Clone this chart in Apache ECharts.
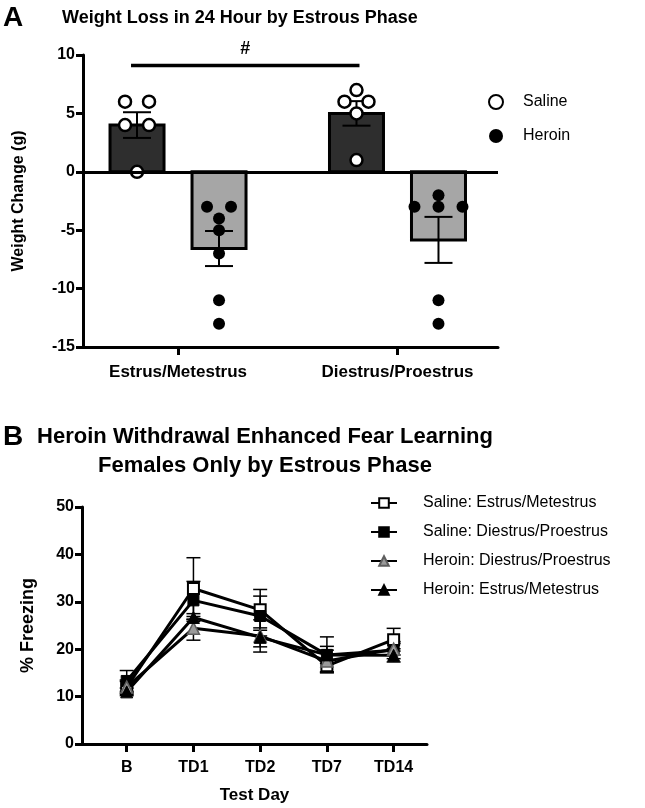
<!DOCTYPE html>
<html>
<head>
<meta charset="utf-8">
<script src="https://cdn.jsdelivr.net/npm/echarts@6/dist/echarts.min.js"></script>
<style>
  html, body { margin: 0; padding: 0; background: #fff; }
  #chart { width: 645px; height: 808px; }
</style>
</head>
<body>
<div id="chart"></div>
<script>
// ===== Panel A: weight change (g) =====
var phases = ['Estrus/Metestrus', 'Diestrus/Proestrus'];
var salineMean = [4.0, 5.0];
var salineSem = [1.1, 1.05];
var heroinMean = [-6.57, -5.83];
var heroinSem = [1.5, 1.97];
var salinePoints = [[6, 6, 4, 4, 0], [7, 6, 6, 5, 1]];
var heroinPoints = [[-3, -3, -4, -5, -7, -11, -13], [-2, -3, -3, -3, -11, -13]];
var sigLevel = 9.1;
var weightTicks = [-15, 10, 5];   // min, max, interval

// ===== Panel B: % freezing by test day =====
var testDays = ['B', 'TD1', 'TD2', 'TD7', 'TD14'];
var salineEM = [12.0, 32.8, 28.3, 16.5, 22.0];
var salineEMSem = [1.5, 6.5, 4.3, 1.3, 2.4];
var salineDP = [13.3, 30.3, 27.0, 18.8, 19.8];
var salineDPSem = [2.2, 4.0, 4.2, 3.8, 1.8];
var heroinDP = [12.0, 24.4, 22.8, 17.5, 20.0];
var heroinDPSem = [1.2, 2.5, 3.4, 2.3, 1.2];
var heroinEM = [11.0, 26.7, 22.5, 18.8, 18.7];
var heroinEMSem = [0.8, 0.8, 2.0, 1.8, 1.4];
var freezeTicks = [0, 50, 10];

var FONT = '"Liberation Sans", Arial, Helvetica, sans-serif';
var BAR_W = 54, BAR_OFF = 41, CAP_A = 28, CAP_B = 14;

var chart = echarts.init(document.getElementById('chart'));

// 同值的点左右排开（简单的 beeswarm）
function swarm(points) {
  var counts = {}, seen = {};
  points.forEach(function(v) { counts[v] = (counts[v] || 0) + 1; });
  return points.map(function(v) {
    var n = counts[v], k = seen[v] || 0;
    seen[v] = k + 1;
    return (k - (n - 1) / 2) * 24;
  });
}

function pointData(groups, side) {
  var out = [];
  groups.forEach(function(pts, gi) {
    var jit = swarm(pts);
    pts.forEach(function(v, j) {
      out.push({ value: [gi, v], symbolOffset: [side * BAR_OFF + jit[j], 0] });
    });
  });
  return out;
}

function meanData(means, sems) {
  return means.map(function(m, i) { return [i, m, sems[i]]; });
}

// 柱子 + 误差线
function barRenderer(side, fill) {
  return function(params, api) {
    var x = api.value(0), m = api.value(1), s = api.value(2);
    var base = api.coord([x, 0]);
    var top = api.coord([x, m]);
    var cx = base[0] + side * BAR_OFF;
    var hi = api.coord([x, m + s])[1];
    var lo = api.coord([x, m - s])[1];
    var ln = { stroke: '#000', lineWidth: 2 };
    return {
      type: 'group',
      children: [
        { type: 'rect', shape: { x: cx - BAR_W / 2, y: Math.min(base[1], top[1]), width: BAR_W, height: Math.abs(top[1] - base[1]) },
          style: { fill: fill, stroke: '#000', lineWidth: 3 } },
        { type: 'line', shape: { x1: cx, y1: hi, x2: cx, y2: lo }, style: ln },
        { type: 'line', shape: { x1: cx - CAP_A / 2, y1: hi, x2: cx + CAP_A / 2, y2: hi }, style: ln },
        { type: 'line', shape: { x1: cx - CAP_A / 2, y1: lo, x2: cx + CAP_A / 2, y2: lo }, style: ln }
      ]
    };
  };
}

function errSeries(means, sems) {
  return {
    type: 'custom', xAxisIndex: 1, yAxisIndex: 1, z: 2, silent: true,
    data: meanData(means, sems),
    renderItem: function(params, api) {
      var x = api.value(0), m = api.value(1), s = api.value(2);
      var hi = api.coord([x, m + s]), lo = api.coord([x, m - s]);
      var ln = { stroke: '#000', lineWidth: 1.5 };
      return {
        type: 'group',
        children: [
          { type: 'line', shape: { x1: hi[0], y1: hi[1], x2: lo[0], y2: lo[1] }, style: ln },
          { type: 'line', shape: { x1: hi[0] - CAP_B / 2, y1: hi[1], x2: hi[0] + CAP_B / 2, y2: hi[1] }, style: ln },
          { type: 'line', shape: { x1: lo[0] - CAP_B / 2, y1: lo[1], x2: lo[0] + CAP_B / 2, y2: lo[1] }, style: ln }
        ]
      };
    }
  };
}

function lineSeries(name, vals, symbol, size, item) {
  return {
    name: name, type: 'line', xAxisIndex: 1, yAxisIndex: 1, z: 3,
    data: vals.map(function(v, i) { return [i, v]; }),
    symbol: symbol, symbolSize: size, showAllSymbol: true,
    lineStyle: { color: '#000', width: 3 },
    itemStyle: item
  };
}

var axisCommon = {
  axisLine: { show: true, onZero: false, lineStyle: { color: '#000', width: 3 } },
  axisTick: { show: true, length: 7, lineStyle: { color: '#000', width: 3 } },
  splitLine: { show: false },
  axisLabel: { color: '#000', fontFamily: FONT, fontWeight: 'bold', fontSize: 16, margin: 8 }
};

var option = {
  backgroundColor: '#fff',
  animation: false,
  textStyle: { fontFamily: FONT },
  graphic: [
    { type: 'text', x: 3, y: 18, style: { text: 'A', font: 'bold 28px ' + FONT, fill: '#000', verticalAlign: 'middle' } },
    { type: 'text', x: 62, y: 18, style: { text: 'Weight Loss in 24 Hour by Estrous Phase', font: 'bold 18px ' + FONT, fill: '#000', verticalAlign: 'middle' } },
    { type: 'text', x: 3, y: 437, style: { text: 'B', font: 'bold 28px ' + FONT, fill: '#000', verticalAlign: 'middle' } },
    { type: 'text', x: 265, y: 437, style: { text: 'Heroin Withdrawal Enhanced Fear Learning', font: 'bold 22px ' + FONT, fill: '#000', align: 'center', verticalAlign: 'middle' } },
    { type: 'text', x: 265, y: 466, style: { text: 'Females Only by Estrous Phase', font: 'bold 22px ' + FONT, fill: '#000', align: 'center', verticalAlign: 'middle' } }
  ],
  legend: [
    {
      data: ['Saline', 'Heroin'], orient: 'vertical', left: 488, top: 94, padding: 0,
      itemWidth: 14, itemHeight: 14, itemGap: 18,
      textStyle: { fontFamily: FONT, fontSize: 16, color: '#000', padding: [0, 0, 0, 15] }
    },
    {
      data: ['Saline: Estrus/Metestrus', 'Saline: Diestrus/Proestrus', 'Heroin: Diestrus/Proestrus', 'Heroin: Estrus/Metestrus'],
      orient: 'vertical', left: 370, top: 495, padding: 0,
      itemWidth: 26, itemHeight: 12, itemGap: 13,
      textStyle: { fontFamily: FONT, fontSize: 16, color: '#000', padding: [0, 0, 0, 21] }
    }
  ],
  grid: [
    { left: 83, top: 55, width: 415, height: 292 },
    { left: 82, top: 507, width: 345, height: 237 }
  ],
  xAxis: [
    Object.assign({}, axisCommon, {
      type: 'value', gridIndex: 0, min: -0.433, max: 1.458,
      axisTick: { show: true, length: 8, customValues: [0, 1], lineStyle: { color: '#000', width: 3 } },
      axisLabel: { color: '#000', fontFamily: FONT, fontWeight: 'bold', fontSize: 17, margin: 17,
        customValues: [0, 1], formatter: function(v) { return phases[Math.round(v)]; } }
    }),
    Object.assign({}, axisCommon, {
      type: 'value', gridIndex: 1, min: -0.67, max: 4.5,
      name: 'Test Day', nameLocation: 'middle', nameGap: 43,
      nameTextStyle: { color: '#000', fontFamily: FONT, fontWeight: 'bold', fontSize: 17 },
      axisTick: { show: true, length: 8, customValues: [0, 1, 2, 3, 4], lineStyle: { color: '#000', width: 3 } },
      axisLabel: { color: '#000', fontFamily: FONT, fontWeight: 'bold', fontSize: 16, margin: 16,
        customValues: [0, 1, 2, 3, 4], formatter: function(v) { return testDays[Math.round(v)]; } }
    })
  ],
  yAxis: [
    Object.assign({}, axisCommon, {
      type: 'value', gridIndex: 0, min: weightTicks[0], max: weightTicks[1], interval: weightTicks[2],
      name: 'Weight Change (g)', nameLocation: 'middle', nameGap: 56,
      nameTextStyle: { color: '#000', fontFamily: FONT, fontWeight: 'bold', fontSize: 16 }
    }),
    Object.assign({}, axisCommon, {
      type: 'value', gridIndex: 1, min: freezeTicks[0], max: freezeTicks[1], interval: freezeTicks[2],
      name: '% Freezing', nameLocation: 'middle', nameGap: 45,
      nameTextStyle: { color: '#000', fontFamily: FONT, fontWeight: 'bold', fontSize: 18 }
    })
  ],
  series: [
    // ---- A: bars ----
    {
      type: 'custom', xAxisIndex: 0, yAxisIndex: 0, z: 2, silent: true,
      data: meanData(salineMean, salineSem),
      renderItem: barRenderer(-1, '#2e2e2e')
    },
    {
      type: 'custom', xAxisIndex: 0, yAxisIndex: 0, z: 2, silent: true,
      data: meanData(heroinMean, heroinSem),
      renderItem: barRenderer(1, '#a6a6a6'),
      markLine: {
        silent: true, symbol: 'none', label: { show: false },
        lineStyle: { color: '#000', width: 3, type: 'solid' },
        data: [{ yAxis: 0 }]
      }
    },
    // 显著性横线 #
    {
      type: 'custom', xAxisIndex: 0, yAxisIndex: 0, z: 2, silent: true,
      data: [[0, 1, sigLevel]],
      encode: { x: [0, 1], y: 2 },
      renderItem: function(params, api) {
        var p0 = api.coord([api.value(0), api.value(2)]);
        var p1 = api.coord([api.value(1), api.value(2)]);
        var x0 = p0[0] - BAR_OFF - 6, x1 = p1[0] - BAR_OFF + 3;
        return {
          type: 'group',
          children: [
            { type: 'line', shape: { x1: x0, y1: p0[1], x2: x1, y2: p0[1] }, style: { stroke: '#000', lineWidth: 3.5 } },
            { type: 'text', x: (x0 + x1) / 2, y: p0[1] - 16, style: { text: '#', font: 'bold 18px ' + FONT, fill: '#000', align: 'center', verticalAlign: 'middle' } }
          ]
        };
      }
    },
    // ---- A: individual points ----
    {
      name: 'Saline', type: 'scatter', xAxisIndex: 0, yAxisIndex: 0, z: 4,
      symbol: 'circle', symbolSize: 12,
      itemStyle: { color: '#fff', borderColor: '#000', borderWidth: 2.5, opacity: 1 },
      data: pointData(salinePoints, -1)
    },
    {
      name: 'Heroin', type: 'scatter', xAxisIndex: 0, yAxisIndex: 0, z: 4,
      symbol: 'circle', symbolSize: 12,
      itemStyle: { color: '#000', opacity: 1 },
      data: pointData(heroinPoints, 1)
    },
    // ---- B: error bars ----
    errSeries(salineEM, salineEMSem),
    errSeries(salineDP, salineDPSem),
    errSeries(heroinDP, heroinDPSem),
    errSeries(heroinEM, heroinEMSem),
    // ---- B: lines ----
    lineSeries('Saline: Estrus/Metestrus', salineEM, 'rect', 11, { color: '#fff', borderColor: '#000', borderWidth: 2 }),
    lineSeries('Saline: Diestrus/Proestrus', salineDP, 'rect', 11, { color: '#000', borderColor: '#000', borderWidth: 1 }),
    lineSeries('Heroin: Diestrus/Proestrus', heroinDP, 'triangle', 12, { color: '#9a9a9a', borderColor: '#5e5e5e', borderWidth: 1.5 }),
    lineSeries('Heroin: Estrus/Metestrus', heroinEM, 'triangle', 12, { color: '#000', borderColor: '#000', borderWidth: 1 })
  ]
};

chart.setOption(option);

window.addEventListener('resize', function() {
  chart.resize();
});
</script>
</body>
</html>
